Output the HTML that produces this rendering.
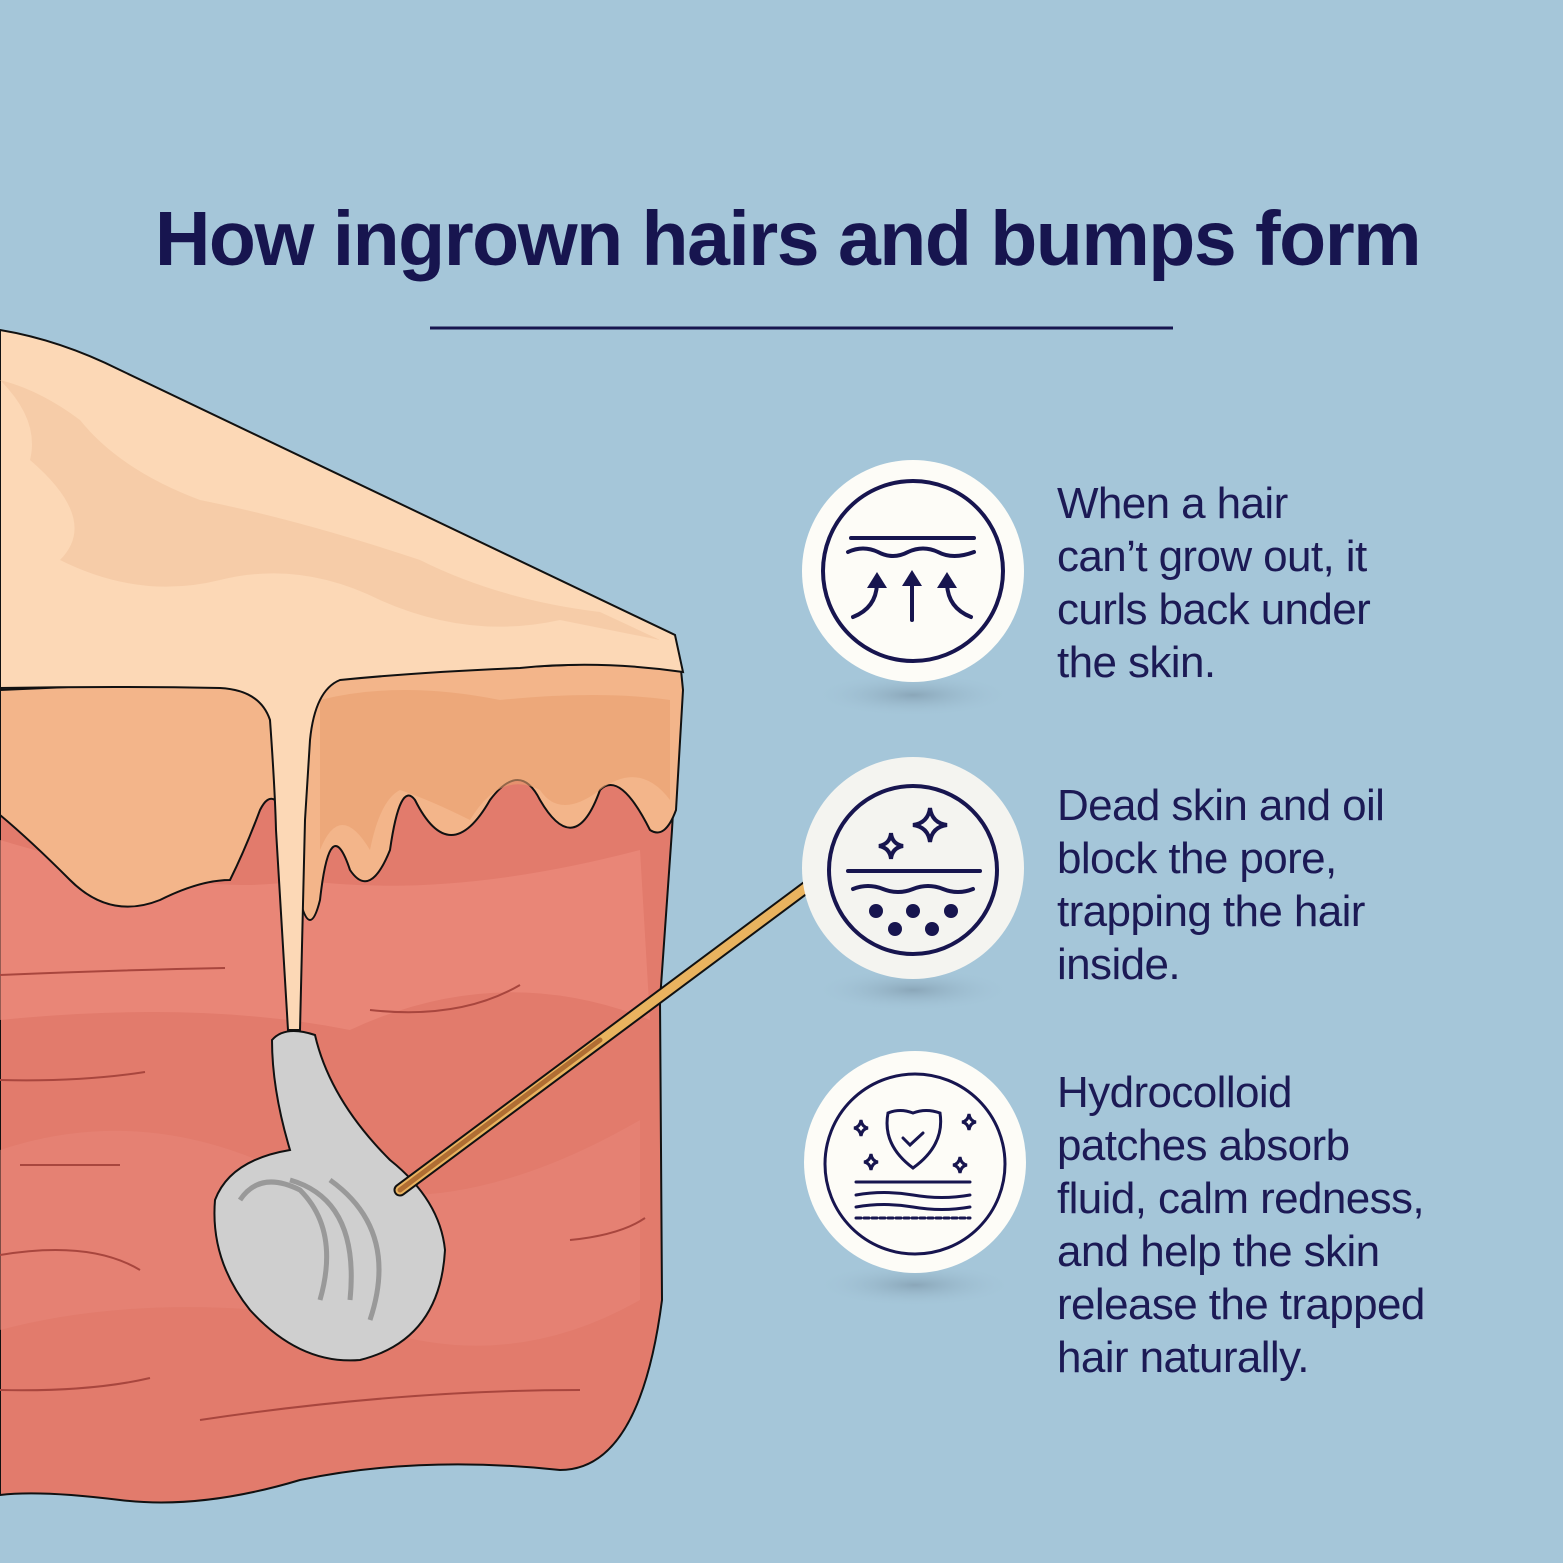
<!DOCTYPE html>
<html><head><meta charset="utf-8"><style>
html,body{margin:0;padding:0;background:#a5c6d9;}
.wrap{position:relative;width:1563px;height:1563px;overflow:hidden;background:#a5c6d9;}
h1{position:absolute;left:0;width:1575px;top:195px;margin:0;text-align:center;font:bold 77px "Liberation Sans",sans-serif;color:#17154f;letter-spacing:-1.5px;}
.t{position:absolute;left:1057px;font:44px/53px "Liberation Sans",sans-serif;color:#1c1a55;letter-spacing:-0.6px;}
svg{position:absolute;left:0;top:0;}
</style></head><body><div class="wrap">
<svg width="1563" height="1563" viewBox="0 0 1563 1563">
<defs>
<radialGradient id="sh" cx="0.5" cy="0.5" r="0.5"><stop offset="0" stop-color="#7f99ab" stop-opacity=".7"/><stop offset="1" stop-color="#a5c6d9" stop-opacity="0"/></radialGradient>
</defs>
<line x1="430" y1="328" x2="1173" y2="328" stroke="#17154f" stroke-width="3"/>
<path d="M0,800 L680,690 L672,830 L660,1000 L662,1300 Q640,1470 560,1470 Q420,1455 300,1480 Q200,1510 120,1500 Q40,1490 0,1495 Z" fill="#e27b6c" stroke="#111" stroke-width="2"/>
<path d="M0,840 Q200,900 300,880 Q450,900 640,850 L650,1020 Q500,960 350,1030 Q200,1000 0,1020 Z" fill="#ef8e7e" opacity=".6"/>
<path d="M0,1150 Q150,1100 300,1180 Q450,1230 640,1120 L640,1300 Q500,1380 350,1320 Q150,1290 0,1330 Z" fill="#e8877a" opacity=".5"/>
<g fill="none" stroke="#a8463e" stroke-width="2">
<path d="M0,975 Q120,970 225,968"/><path d="M370,1010 Q460,1020 520,985"/><path d="M0,1080 Q80,1082 145,1072"/><path d="M20,1165 L120,1165"/><path d="M0,1255 Q90,1240 140,1270"/><path d="M570,1240 Q620,1235 645,1218"/><path d="M0,1390 Q90,1392 150,1378"/><path d="M200,1420 Q400,1390 580,1390"/>
</g>
<path d="M0,690 L680,660 L683,690 L676,810 Q665,840 650,830 Q620,770 600,790 Q575,860 540,800 Q520,760 490,800 Q450,870 415,800 Q400,780 390,850 Q370,900 350,870 Q330,810 320,900 Q310,940 300,900 L290,830 Q275,780 260,810 Q245,850 230,880 Q200,880 160,900 Q110,920 70,880 Q30,840 0,815 Z" fill="#f3b58a" stroke="#111" stroke-width="2"/>
<path d="M320,700 Q400,680 500,700 Q600,690 670,700 L670,800 Q640,760 600,790 Q560,820 540,790 Q500,770 470,820 Q430,800 400,790 Q380,800 370,850 Q340,800 320,850 Z" fill="#e9a070" opacity=".6"/>
<path d="M0,330 Q60,340 120,370 L675,635 L683,672 Q600,660 520,668 Q420,672 340,680 Q315,690 310,740 L305,820 L300,1030 L288,1030 L276,830 Q275,790 270,720 Q260,690 220,688 Q120,686 0,688 Z" fill="#fcd8b6" stroke="#111" stroke-width="2"/>
<path d="M0,380 Q40,420 30,460 Q100,520 60,560 Q140,600 220,580 Q300,560 380,600 Q470,640 560,620 L660,640 L600,612 Q500,600 420,560 Q300,520 200,500 Q120,470 80,420 Q40,390 0,380 Z" fill="#f3c8a3" opacity=".7"/>
<path d="M272,1040 Q285,1025 315,1035 Q330,1100 390,1160 Q440,1200 445,1250 Q440,1340 360,1360 Q300,1365 250,1310 Q210,1260 215,1200 Q230,1160 290,1150 Q272,1090 272,1040 Z" fill="#cfcfcf" stroke="#111" stroke-width="2"/>
<path d="M240,1200 Q260,1170 300,1190 Q340,1230 320,1300 M290,1180 Q360,1200 350,1300 M330,1180 Q400,1230 370,1320" fill="none" stroke="#999" stroke-width="5"/>
<line x1="400" y1="1190" x2="812" y2="883" stroke="#111" stroke-width="13" stroke-linecap="round"/>
<line x1="400" y1="1190" x2="812" y2="883" stroke="#e9b35f" stroke-width="9" stroke-linecap="round"/>
<line x1="400" y1="1190" x2="600" y2="1040" stroke="#b06e33" stroke-width="5" stroke-linecap="round"/>
<ellipse cx="913" cy="695" rx="100" ry="22" fill="url(#sh)"/>
<ellipse cx="913" cy="990" rx="100" ry="22" fill="url(#sh)"/>
<ellipse cx="915" cy="1285" rx="100" ry="22" fill="url(#sh)"/>
<circle cx="913" cy="571" r="111" fill="#fdfcf7"/>
<circle cx="913" cy="571" r="90" fill="none" stroke="#17154f" stroke-width="4"/>
<g fill="none" stroke="#17154f" stroke-width="4" stroke-linecap="round">
<line x1="851" y1="538" x2="974" y2="538"/>
<path d="M848,552 Q863,545 878,552 Q893,560 908,552 Q923,545 938,552 Q953,560 974,552"/>
<line x1="912" y1="620" x2="912" y2="580"/>
<path d="M853,617 Q876,608 877,584"/>
<path d="M971,617 Q948,608 947,584"/>
</g>
<g fill="#17154f"><polygon points="912,570 902,586 922,586"/><polygon points="877,572 867,588 887,588"/><polygon points="947,572 937,588 957,588"/></g>
<circle cx="913" cy="868" r="111" fill="#f4f4f0"/>
<circle cx="913" cy="870" r="84" fill="none" stroke="#17154f" stroke-width="4"/>
<g fill="none" stroke="#17154f" stroke-width="4" stroke-linecap="round">
<line x1="848" y1="871" x2="980" y2="871"/>
<path d="M853,889 Q868,883 883,889 Q898,895 913,889 Q928,883 943,889 Q958,895 973,889"/>
<path d="M930,808 Q932,823 947,825 Q932,827 930,842 Q928,827 913,825 Q928,823 930,808Z"/>
<path d="M891,833 Q892,844 903,846 Q892,848 891,859 Q890,848 879,846 Q890,844 891,833Z"/>
</g>
<g fill="#17154f"><circle cx="876" cy="911" r="7"/><circle cx="913" cy="911" r="7"/><circle cx="951" cy="911" r="7"/><circle cx="895" cy="929" r="7"/><circle cx="932" cy="929" r="7"/></g>
<circle cx="915" cy="1162" r="111" fill="#fdfcf7"/>
<circle cx="915" cy="1164" r="90" fill="none" stroke="#17154f" stroke-width="3"/>
<g fill="none" stroke="#17154f" stroke-width="3" stroke-linecap="round">
<path d="M888,1113 Q900,1108 913,1113 Q926,1108 940,1113 Q945,1145 913,1168 Q882,1145 888,1113Z"/>
<path d="M903,1138 L910,1145 L923,1133"/>
<line x1="856" y1="1182" x2="970" y2="1182"/>
<path d="M856,1195 Q884,1190 913,1195 Q942,1200 970,1195"/>
<path d="M856,1207 Q884,1202 913,1207 Q942,1212 970,1207"/>
<line x1="856" y1="1218" x2="970" y2="1218" stroke-dasharray="5,3"/>
<path d="M861,1120 Q862,1127 868,1128 Q862,1129 861,1136 Q860,1129 854,1128 Q860,1127 861,1120Z"/>
<path d="M871,1154 Q872,1161 878,1162 Q872,1163 871,1170 Q870,1163 864,1162 Q870,1161 871,1154Z"/>
<path d="M969,1114 Q970,1121 976,1122 Q970,1123 969,1130 Q968,1123 962,1122 Q968,1121 969,1114Z"/>
<path d="M960,1157 Q961,1164 967,1165 Q961,1166 960,1173 Q959,1166 953,1165 Q959,1164 960,1157Z"/>
</g>
</svg>
<h1>How ingrown hairs and bumps form</h1>
<div class="t" style="top:477px">When a hair<br>can’t grow out, it<br>curls back under<br>the skin.</div>
<div class="t" style="top:779px">Dead skin and oil<br>block the pore,<br>trapping the hair<br>inside.</div>
<div class="t" style="top:1066px">Hydrocolloid<br>patches absorb<br>fluid, calm redness,<br>and help the skin<br>release the trapped<br>hair naturally.</div>
</div></body></html>
